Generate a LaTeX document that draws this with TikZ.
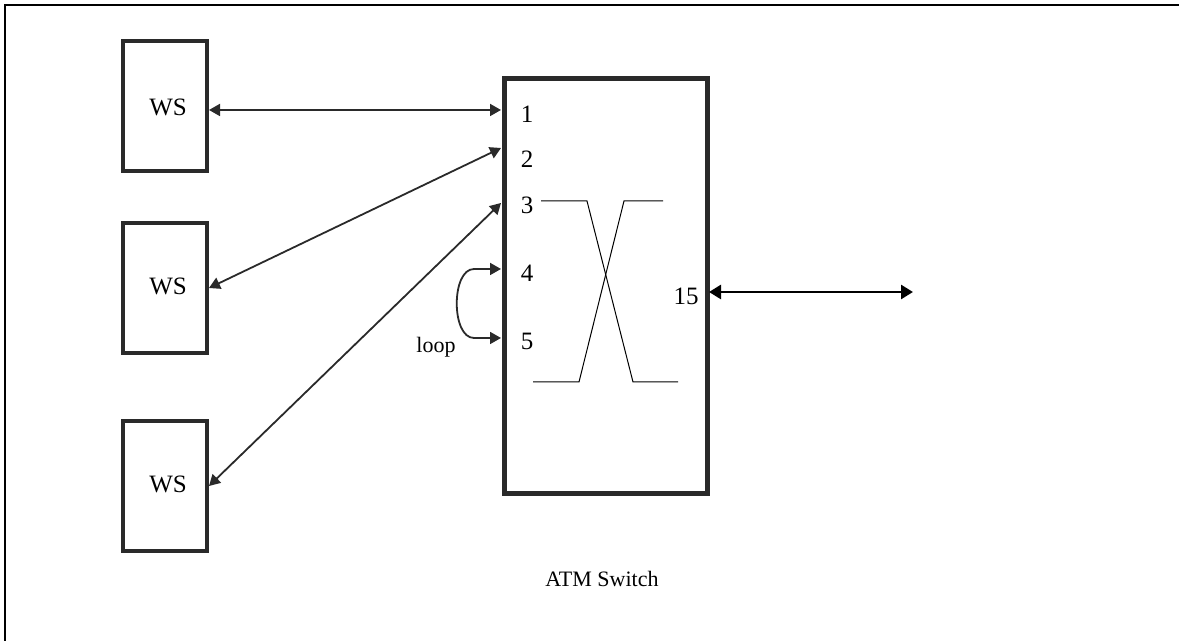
\documentclass[tikz,border=0pt]{standalone}
\usepackage{fontspec}
\setmainfont{Liberation Serif}
\usetikzlibrary{arrows.meta}
\definecolor{boxgray}{HTML}{2A2A2A}
\tikzset{
  wsbox/.style={draw=boxgray, line width=2pt, minimum width=42pt, minimum height=65pt, inner sep=0pt},
  swbox/.style={draw=boxgray, line width=2.5pt, minimum width=101.5pt, minimum height=207.5pt, inner sep=0pt},
  conn/.style={draw=boxgray, line width=0.9pt, {Triangle[length=5.5pt,width=6pt]}-{Triangle[length=5.5pt,width=6pt]}},
  bigconn/.style={draw=black, line width=1.3pt, {Triangle[length=6pt,width=7pt]}-{Triangle[length=6pt,width=7pt]}},
  xline/.style={draw=black, line width=0.5pt},
  lbl/.style={font=\fontsize{12.5}{14}\selectfont, inner sep=0pt, anchor=base},
  slbl/.style={font=\fontsize{11}{13}\selectfont, inner sep=0pt, anchor=base},
}
\begin{document}
\begin{tikzpicture}[x=0.5pt,y=-0.5pt]
\useasboundingbox (0,0) rectangle (1179,641);
% frame
\draw[line width=1pt] (5,641) -- (5,5) -- (1179,5);
% WS boxes
\node[wsbox] (ws1) at (165,106) {};
\node[wsbox] (ws2) at (165,288) {};
\node[wsbox] (ws3) at (165,486) {};
\node[lbl] (t1) at (168,116) {WS};
\node[lbl] (t2) at (168,295) {WS};
\node[lbl] (t3) at (168,493) {WS};
% switch
\node[swbox] (sw) at (605.5,286.5) {};
\node[slbl] (swl) at (602,587) {ATM Switch};
% ports
\coordinate (p1) at (501,110);
\coordinate (p2) at (501,148);
\coordinate (p3) at (501,203);
\coordinate (p4) at (501,269);
\coordinate (p5) at (501,338);
\coordinate (p15) at (709,292);
\coordinate (far) at (913,292);
\node[lbl] (n1) at (527,123) {1};
\node[lbl] (n2) at (527,168) {2};
\node[lbl] (n3) at (527,214) {3};
\node[lbl] (n4) at (527,282) {4};
\node[lbl] (n5) at (527,350) {5};
\node[lbl] (n15) at (686,305) {15};
\node[slbl] (lp) at (436,353) {loop};
% connectors
\draw[conn] (ws1.east |- p1) -- (p1);
\draw[conn] (ws2.east) -- (p2);
\draw[conn] (ws3.east) -- (p3);
\draw[conn] (p4) -- (474,269) .. controls (451,269) and (451,338) .. (474,338) -- (p5);
\draw[bigconn] (p15) -- (far);
% crossing symbol
\draw[xline] (541,201) -- (587,201) -- (633,382) -- (678,382);
\draw[xline] (663,201) -- (624,201) -- (579,382) -- (533,382);
\end{tikzpicture}
\end{document}
